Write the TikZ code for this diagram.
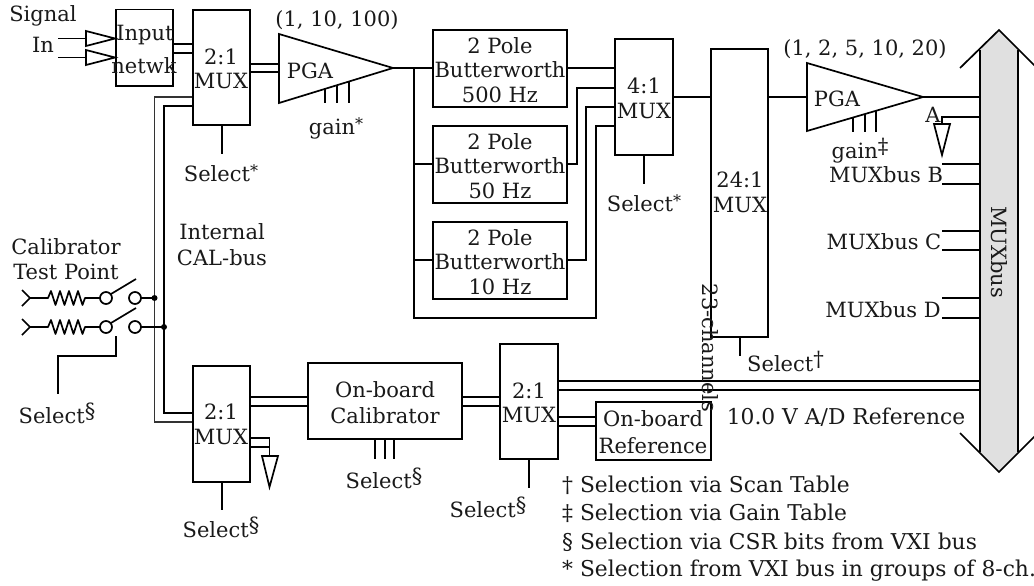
\documentclass[tikz,border=0pt]{standalone}
\usepackage{fontspec}
\setmainfont{DejaVu Serif}
\newcommand{\supm}[1]{\raisebox{5pt}{#1}}
\newcommand{\supstar}{\raisebox{5pt}{\fontsize{16}{18}\selectfont *}}
\tikzset{
  x=1pt,y=-1pt,
  ln/.style={line width=1.7pt,draw=black},
  hv/.style={line width=2.7pt,draw=black},
  thn/.style={line width=1.4pt,draw=black!80},
  lab/.style={inner sep=0pt,font=\fontsize{21}{24}\selectfont,text=black!90,align=center},
  foot/.style={lab,anchor=west,font=\fontsize{21.8}{24}\selectfont},
  boxn/.style={draw=black,line width=1.7pt,rectangle,inner sep=0pt,fill=white},
  tri/.style={draw=black,line width=1.7pt,line join=miter}
}
\newcommand{\pbox}[5]{\node[boxn,minimum width=#4pt-#2pt,minimum height=#5pt-#3pt] (#1) at ({(#2+#4)/2},{(#3+#5)/2}) {};}
\begin{document}
\begin{tikzpicture}
\useasboundingbox (0,0) rectangle (1034,586);
% bus
\coordinate (bustop) at (999,30);
\coordinate (busbot) at (999,472);
\fill[black!12] (980,50) -- (bustop) -- (1018,50) -- (1018,452) -- (busbot) -- (980,452) -- cycle;
\draw[ln] (980,50) -- (980,452) (1018,50) -- (1018,452);
\draw[ln] (960,68) -- (bustop) -- (1036,67);
\draw[ln] (960,433) -- (busbot) -- (1036,435);
\coordinate (busw) at (980,250);
% boxes
\pbox{inp}{116}{9.5}{173}{86}
\pbox{muxa}{193}{10}{250}{125}
\pbox{fa}{433}{30}{567}{107}
\pbox{fb}{433}{126}{567}{203}
\pbox{fc}{433}{222}{567}{299}
\pbox{muxb}{615}{39}{673}{155}
\pbox{muxc}{711}{49}{768}{337}
\pbox{muxd}{193}{366}{250}{482}
\pbox{cal}{308}{363}{462}{439}
\pbox{muxe}{500}{344}{558}{459}
\pbox{ref}{596}{402}{711}{460}
% buffers
\coordinate (bufa) at (86,38.5); \coordinate (bufatip) at (115,38.5);
\coordinate (bufb) at (86,57.5); \coordinate (bufbtip) at (115,57.5);
\draw[tri] (86,31) -- (bufatip) -- (86,46) -- cycle;
\draw[tri] (86,50) -- (bufbtip) -- (86,65) -- cycle;
\coordinate (ina) at (58,38.5); \coordinate (inb) at (58,57.5);
\draw[ln] (ina) -- (bufa); \draw[ln] (inb) -- (bufb);
% input network to mux
\draw[ln] (inp.east |- 0,44) -- (muxa.west |- 0,44);
\draw[ln] (inp.east |- 0,53) -- (muxa.west |- 0,53);
% PGA 1
\coordinate (pgaaw) at (279,68);
\coordinate (pgaatip) at (393,68);
\draw[tri] (279,34) -- (pgaatip) -- (279,103) -- cycle;
\draw[ln] (muxa.east |- 0,64) -- (pgaaw |- 0,64);
\draw[ln] (muxa.east |- 0,72) -- (pgaaw |- 0,72);
\draw[ln] (325,89) -- (325,103) (337,85) -- (337,103) (349,81.5) -- (349,103);
% select mux a
\coordinate (sela) at (222,154);
\draw[ln] (muxa.south -| sela) -- (sela);
% CAL-bus
\coordinate (busa) at (154.5,97); \coordinate (busb) at (164,106);
\draw[thn] (muxa.west |- busa) -- (busa) -- (154.5,422) -- (muxd.west |- 0,422);
\draw[hv] (muxa.west |- busb) -- (busb) -- (164,413) -- (muxd.west |- 0,413);
% filter tree
\coordinate (tree) at (414,68);
\draw[hv] (pgaatip) -- (fa.west |- tree);
\draw[hv] (tree) -- (414,260);
\draw[hv] (414,164) -- (fb.west |- 0,164);
\draw[hv] (414,260) -- (fc.west |- 0,260);
\draw[ln] (414,260) -- (414,318) -- (596,318) -- (596,126) -- (muxb.west |- 0,126);
\draw[hv] (fa.east |- tree) -- (muxb.west |- tree);
\draw[ln] (fb.east |- 0,164) -- (577,164) -- (577,88) -- (muxb.west |- 0,88);
\draw[ln] (fc.east |- 0,260) -- (586,260) -- (586,107) -- (muxb.west |- 0,107);
\draw[ln] (muxb.east |- 0,97) -- (muxc.west |- 0,97);
\coordinate (selb) at (644,184);
\draw[ln] (muxb.south -| selb) -- (selb);
% PGA 2
\coordinate (pgabw) at (807,97); \coordinate (pgabtip) at (923,97);
\draw[tri] (807,63) -- (pgabtip) -- (807,131) -- cycle;
\draw[ln] (muxc.east |- pgabw) -- (pgabw);
\draw[ln] (pgabtip) -- (busw |- pgabtip);
\draw[ln] (853,117.5) -- (853,132) (865,114) -- (865,132) (876,111) -- (876,132);
\coordinate (selc) at (740,356);
\draw[ln] (muxc.south -| selc) -- (selc);
% A ground
\coordinate (gnda) at (942,124);
\draw[ln] (busw |- 0,117) -- (942,117) -- (gnda);
\draw[tri] (934,124) -- (950,124) -- (942,155) -- cycle;
% MUXbus lines
\foreach \yy in {164,184,231,250,298,318}{\draw[ln] (942,\yy) -- (busw |- 0,\yy);}
% calibrator inputs
\foreach \r/\yy/\bx/\nm in {1/298/154.5/a,2/327/164/b}{
  \draw[ln] (22,\yy-8) -- (30,\yy) -- (22,\yy+8);
  \draw[ln,line join=round] (30,\yy) -- (48,\yy) -- (51,\yy-7) -- (55.5,\yy+7) -- (60,\yy-7) -- (64.5,\yy+7) -- (69,\yy-7) -- (73.5,\yy+7) -- (78,\yy-7) -- (82.5,\yy+7) -- (85,\yy) -- (100,\yy);
  \draw[ln] (106,\yy) circle[radius=6];
  \draw[ln] (135,\yy) circle[radius=6];
  \draw[ln] (111,\yy-4) -- (136,\yy-19);
  \draw[ln] (141,\yy) -- (\bx,\yy);
  \fill (\bx,\yy) circle[radius=3];
}
\coordinate (selsw) at (58,394);
\draw[ln] (116,336) -- (116,356) -- (58,356) -- (selsw);
% lower mux
\draw[ln] (muxd.east |- 0,397) -- (cal.west |- 0,397);
\draw[ln] (muxd.east |- 0,406) -- (cal.west |- 0,406);
\draw[ln] (muxd.east |- 0,438) -- (269.5,438) -- (269.5,456);
\draw[ln] (muxd.east |- 0,447) -- (269.5,447);
\draw[tri] (262,456) -- (278,456) -- (269.5,487) -- cycle;
\coordinate (seld) at (222,510);
\draw[ln] (muxd.south -| seld) -- (seld);
% calibrator
\draw[ln] (cal.east |- 0,397) -- (muxe.west |- 0,397);
\draw[ln] (cal.east |- 0,406) -- (muxe.west |- 0,406);
\draw[ln] (375,439) -- (375,459) (385,439) -- (385,459) (394,439) -- (394,459);
\coordinate (sele) at (529,488);
\draw[ln] (muxe.south -| sele) -- (sele);
\draw[ln] (muxe.east |- 0,381) -- (busw |- 0,381);
\draw[ln] (muxe.east |- 0,390) -- (busw |- 0,390);
\draw[ln] (muxe.east |- 0,417) -- (ref.west |- 0,417);
\draw[ln] (muxe.east |- 0,426) -- (ref.west |- 0,426);
% labels
\node[lab] (t1) at (43,16) {Signal};
\node[lab] (t2) at (43,45) {In};
\node[lab] (t3) at (145,35) {Input};
\node[lab] (t4) at (144,66) {netwk};
\node[lab] (t5) at (221,57) {2:1};
\node[lab] (t6) at (221,81) {MUX};
\node[lab] (t7) at (337,20) {(1, 10, 100)};
\node[lab] (t8) at (310,71) {PGA};
\node[lab] (t9) at (336,128) {gain\supstar};
\node[lab] (t10) at (221,173) {Select\supstar};
\node[lab] (t11) at (222,232) {Internal};
\node[lab] (t12) at (222,258) {CAL-bus};
\node[lab] (t13) at (66,247) {Calibrator};
\node[lab] (t14) at (66,272) {Test Point};
\node[lab] (t15) at (57,413) {Select\supm{§}};
\node[lab] (t16) at (221,412) {2:1};
\node[lab] (t17) at (221,437) {MUX};
\node[lab] (t18) at (221,527) {Select\supm{§}};
\node[lab] (t19) at (385,390) {On-board};
\node[lab] (t20) at (385,416) {Calibrator};
\node[lab] (t21) at (384,478) {Select\supm{§}};
\node[lab] (t22) at (529,391) {2:1};
\node[lab] (t23) at (529,415) {MUX};
\node[lab] (t24) at (488,507) {Select\supm{§}};
\node[lab] (t25) at (653,419) {On-board};
\node[lab] (t26) at (653,446) {Reference};
\foreach \n/\yy/\hz in {a/46/500,b/142/50,c/238/10}{
  \node[lab] (p\n) at (500,\yy) {2 Pole};
  \node[lab] (w\n) at (500,\yy+24) {Butterworth};
  \node[lab] (h\n) at (500,\yy+49) {\hz{} Hz};
}
\node[lab] (t27) at (644,86) {4:1};
\node[lab] (t28) at (644,111) {MUX};
\node[lab] (t29) at (644,203) {Select\supstar};
\node[lab] (t30) at (740,180) {24:1};
\node[lab] (t31) at (740,205) {MUX};
\node[lab] (t32) at (865,49) {(1, 2, 5, 10, 20)};
\node[lab] (t33) at (837,99) {PGA};
\node[lab] (t34) at (860,151) {gain\supm{‡}};
\node[lab] (t35) at (933,115) {A};
\node[lab] (t36) at (886,175) {MUXbus B};
\node[lab] (t37) at (884,242) {MUXbus C};
\node[lab] (t38) at (883,310) {MUXbus D};
\node[lab,rotate=-90] (t39) at (999,252) {MUXbus};
\node[lab,rotate=-90] (t40) at (710,348) {23-channels};
\node[lab,anchor=west] (t41) at (747,361) {Select\supm{†}};
\node[lab,font=\fontsize{21.8}{24}\selectfont] (t42) at (846,417) {10.0 V A/D Reference};
\node[foot] (f1) at (562,485) {† Selection via Scan Table};
\node[foot] (f2) at (562,513) {‡ Selection via Gain Table};
\node[foot] (f3) at (562,542) {§ Selection via CSR bits from VXI bus};
\node[foot] (f4) at (562,571) {* Selection from VXI bus in groups of 8-ch.};
\end{tikzpicture}
\end{document}
